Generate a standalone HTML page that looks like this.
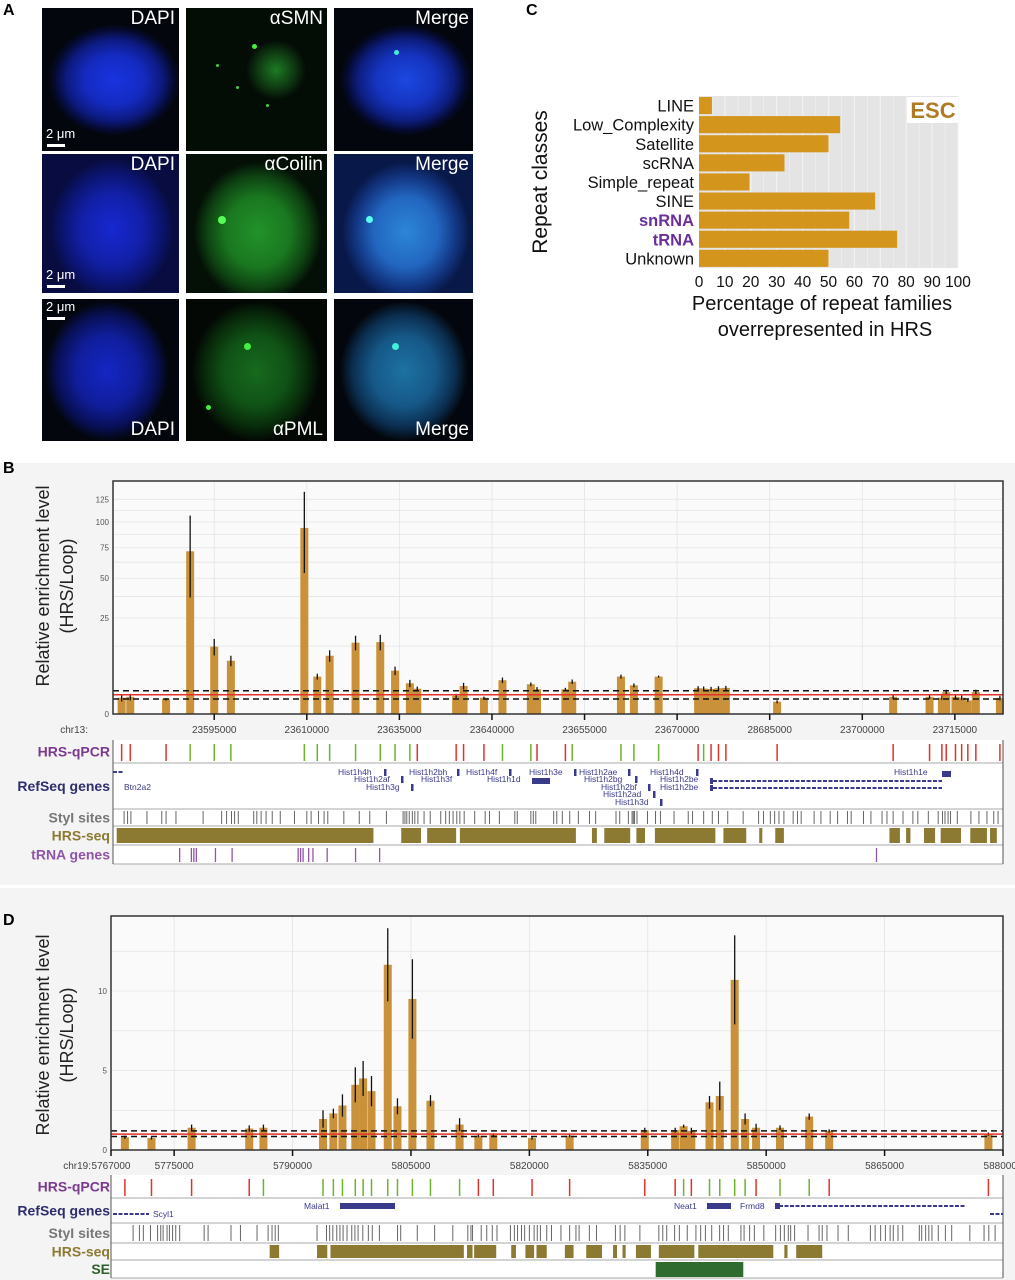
<!DOCTYPE html>
<html><head><meta charset="utf-8">
<style>
body{margin:0;background:#fff;}
#root{position:relative;width:1015px;height:1280px;overflow:hidden;font-family:"Liberation Sans",sans-serif;background:#fff;}
.img{position:absolute;background:#03060c;overflow:hidden;}
.lbl{position:absolute;color:#fff;font-size:19px;}
.sb{position:absolute;color:#fff;font-size:13px;}
.sbar{position:absolute;height:3px;width:18px;background:#fff;}
.pl{position:absolute;font-weight:bold;font-size:16px;color:#000;}
.dot{position:absolute;border-radius:50%;}
svg{position:absolute;left:0;top:0;}
</style></head><body>
<div id="root">
<div style="position:absolute;left:0;top:463px;width:1015px;height:422px;background:#f4f4f4"></div>
<div style="position:absolute;left:0;top:888px;width:1015px;height:392px;background:#f4f4f4"></div>

<div class="pl" style="left:3px;top:2px">A</div>
<div class="pl" style="left:526px;top:2px">C</div>
<div class="pl" style="left:3px;top:460px">B</div>
<div class="pl" style="left:3px;top:912px">D</div>

<!-- Panel A images -->
<div class="img" style="left:42px;top:8px;width:137px;height:143px;background:radial-gradient(ellipse 66px 56px at 72px 72px,#1834e0 0%,#142ac0 45%,#0d1a80 72%,#050a30 90%,#03060c 100%)"><div class="lbl" style="right:4px;top:0">DAPI</div><div class="sb" style="left:4px;top:118px">2 μm</div><div class="sbar" style="left:5px;top:136px"></div></div>
<div class="img" style="left:186px;top:8px;width:141px;height:143px;background:radial-gradient(circle 30px at 90px 62px,#1d7a24 0%,#0f3a12 60%,#040c06 100%),#040c06"><div class="lbl" style="right:4px;top:0">αSMN</div><div class="dot" style="left:66px;top:36px;width:5px;height:5px;background:#4e4"></div><div class="dot" style="left:30px;top:56px;width:3px;height:3px;background:#4c4"></div><div class="dot" style="left:50px;top:78px;width:3px;height:3px;background:#4c4"></div><div class="dot" style="left:80px;top:96px;width:3px;height:3px;background:#4c4"></div></div>
<div class="img" style="left:334px;top:8px;width:139px;height:143px;background:radial-gradient(ellipse 66px 56px at 72px 72px,#1b48e0 0%,#1534c0 45%,#0d1e80 72%,#050a30 90%,#03060c 100%)"><div class="lbl" style="right:4px;top:0">Merge</div><div class="dot" style="left:60px;top:42px;width:5px;height:5px;background:#4ed"></div></div>

<div class="img" style="left:42px;top:154px;width:137px;height:139px;background:radial-gradient(ellipse 62px 70px at 70px 75px,#1628d0 0%,#1220a8 50%,#0b1470 80%,#080c40 100%)"><div class="lbl" style="right:4px;top:0">DAPI</div><div class="sb" style="left:4px;top:113px">2 μm</div><div class="sbar" style="left:5px;top:131px"></div></div>
<div class="img" style="left:186px;top:154px;width:141px;height:139px;background:radial-gradient(ellipse 64px 70px at 72px 78px,#22922a 0%,#1a7820 50%,#0e4212 80%,#041006 100%)"><div class="lbl" style="right:4px;top:0">αCoilin</div><div class="dot" style="left:32px;top:62px;width:8px;height:8px;background:#5f5"></div></div>
<div class="img" style="left:334px;top:154px;width:139px;height:139px;background:radial-gradient(ellipse 64px 70px at 72px 78px,#2c86d8 0%,#2266c0 50%,#123480 80%,#081848 100%)"><div class="lbl" style="right:4px;top:0">Merge</div><div class="dot" style="left:32px;top:62px;width:7px;height:7px;background:#5fe"></div></div>

<div class="img" style="left:42px;top:299px;width:137px;height:142px;background:radial-gradient(ellipse 62px 70px at 65px 72px,#1426c4 0%,#101e9c 50%,#081058 80%,#03060c 100%)"><div class="lbl" style="right:4px;bottom:0">DAPI</div><div class="sb" style="left:4px;top:0">2 μm</div><div class="sbar" style="left:5px;top:18px"></div></div>
<div class="img" style="left:186px;top:299px;width:141px;height:142px;background:radial-gradient(ellipse 64px 70px at 70px 72px,#176a1e 0%,#105216 50%,#082a0a 80%,#030805 100%)"><div class="lbl" style="right:4px;bottom:0">αPML</div><div class="dot" style="left:58px;top:44px;width:7px;height:7px;background:#4e4"></div><div class="dot" style="left:20px;top:106px;width:5px;height:5px;background:#4e4"></div></div>
<div class="img" style="left:334px;top:299px;width:139px;height:142px;background:radial-gradient(ellipse 64px 70px at 70px 72px,#1c72a2 0%,#165888 50%,#0b2e50 80%,#03060c 100%)"><div class="lbl" style="right:4px;bottom:0">Merge</div><div class="dot" style="left:58px;top:44px;width:7px;height:7px;background:#4ed"></div></div>

<svg id="chart" width="1015" height="1280"></svg>
</div>
<script>
// ---------- Panel C data ----------
const cCategories=["LINE","Low_Complexity","Satellite","scRNA","Simple_repeat","SINE","snRNA","tRNA","Unknown"];
const cValues=[5,54.5,50,33,19.5,68,58,76.5,50];
const cTicks=[0,10,20,30,40,50,60,70,80,90,100];
// ---------- Panel B data (positions in kb, offset 23,000,000) ----------
const bPos=[580.0,581.4,587.2,591.1,595.0,597.7,609.6,611.7,613.7,617.9,621.9,624.3,626.7,627.9,634.2,635.4,638.7,641.7,646.3,647.3,651.9,653.0,660.9,663.0,667.0,673.4,674.3,675.5,676.7,677.9,686.2,705.0,710.9,712.9,713.6,715.1,716.1,717.1,718.4,722.3];
const bVal=[0.72,0.8,0.59,71.8,12.3,7.7,93.9,3.8,9.2,13.8,14,5.1,2.56,1.74,0.9,2.13,0.72,3.1,2.4,1.66,1.66,2.83,3.8,2.23,3.8,1.8,1.75,1.7,1.8,1.85,0.41,0.8,0.8,0.72,1.3,0.8,0.72,0.5,1.3,0.7];
const bErr=[0.3,0.3,0.1,35,3,1.5,40,0.6,1.8,2.8,3,1,0.6,0.3,0.2,0.5,0.1,0.5,0.3,0.3,0.2,0.4,0.4,0.3,0.2,0.3,0.3,0.3,0.3,0.3,0.1,0.2,0.2,0.2,0.3,0.2,0.2,0.1,0.3,0.2];
const bEnriched=[0,0,0,1,1,1,1,1,1,1,1,1,1,0,0,0,0,1,1,0,0,1,1,1,1,0,1,0,0,0,0,0,0,0,0,0,0,0,0,0];
const bTickPos=[595,610,625,640,655,670,685,700,715];
const bTickLabels=["23595000","23610000","23635000","23640000","23655000","23670000","28685000","23700000","23715000"];
const bYTicks=[0,25,50,75,100,125];
const bStyI=[580.4,580.96,581.5,584.1,586.5,587.2,588.8,593.2,596.2,597.0,597.8,598.3,598.9,601.4,601.9,602.6,603.4,604.4,605.7,608.0,610.0,610.7,611.9,612.8,613.4,616.0,618.5,620.2,622.9,625.6,625.9,626.2,626.6,627.1,627.5,628.0,629.0,630.0,631.7,632.5,633.1,633.7,634.3,634.8,635.5,637.2,638.9,639.6,641.2,643.7,644.1,646.3,646.7,647.1,650.0,650.5,651.4,652.6,654.0,655.8,656.8,660.1,660.7,662.1,662.7,662.9,663.1,663.5,665.2,666.5,667.3,669.5,671.8,672.5,674.3,675.7,676.7,678.2,680.7,683.2,684.0,685.1,685.8,686.5,687.3,688.8,689.5,690.1,692.2,693.3,694.8,696.0,697.6,698.2,700.2,701.4,703.2,704.0,705.0,706.6,708.2,709.0,710.7,712.3,713.0,713.4,713.9,714.3,715.4,717.6,718.9,720.2,721.3,722.0];
const bHrsStart=[579.2,625.3,629.5,634.8,656.2,658.2,663.4,666.4,677.5,683.3,685.9,704.4,707.1,710.0,712.7,717.5,720.7];
const bHrsEnd=[620.8,628.5,634.2,653.6,657.0,662.4,664.8,676.2,681.2,683.8,687.3,706.1,707.8,711.8,716.0,720.2,721.8];
const bTrna=[589.4,591.3,591.7,592.1,595.2,597.9,608.6,609.0,609.4,610.3,611.0,613.3,617.9,621.8,702.3];
// ---------- Panel D data (positions in kb, offset 5,700,000) ----------
const dPos=[68.76,72.13,77.21,84.51,86.31,93.86,95.17,96.32,97.95,98.94,100.0,102.06,103.29,105.18,107.47,111.16,113.54,115.43,120.34,125.1,134.62,138.47,139.54,140.52,142.82,144.12,146.01,147.33,148.72,151.75,155.45,157.98,178.15];
const dVal=[0.8,0.75,1.4,1.35,1.4,1.95,2.3,2.8,4.1,4.5,3.7,11.65,2.75,9.5,3.1,1.6,0.9,0.95,0.75,0.9,1.25,1.25,1.5,1.2,3.0,3.4,10.7,1.95,1.4,1.4,2.1,1.2,1.0];
const dErr=[0.1,0.1,0.2,0.2,0.2,0.55,0.3,0.7,1.1,1.1,0.95,2.3,0.5,2.5,0.35,0.4,0.1,0.1,0.1,0.1,0.15,0.15,0.1,0.2,0.4,0.9,2.8,0.35,0.25,0.15,0.2,0.1,0.1];
const dEnriched=[0,0,0,0,1,1,1,1,1,1,1,1,1,1,1,1,0,0,0,0,0,0,1,0,1,1,1,1,0,1,1,0,0];
const dTickPos=[67,75,90,105,120,135,150,165,180];
const dTickLabels=["5767000","5775000","5790000","5805000","5820000","5835000","5850000","5865000","5880000"];
const dYTicks=[0,5,10];
const dStyI=[69.8,70.6,71.1,72.0,72.9,73.3,73.6,74.1,74.4,74.8,75.2,75.7,78.8,79.3,82.2,83.4,85.5,86.9,87.4,87.8,88.2,93.1,94.3,94.7,95.1,95.6,96.0,96.4,96.9,97.5,97.9,98.3,98.9,99.6,100.1,101.0,103.3,103.7,105.8,108.0,110.3,112.2,112.6,112.8,113.9,114.6,115.3,115.9,117.6,118.1,118.5,119.0,119.4,120.0,120.6,121.0,121.4,122.2,122.8,124.0,125.1,125.9,126.3,127.6,128.5,130.9,131.5,132.1,134.0,136.4,136.9,137.4,138.4,139.0,140.0,141.1,141.7,142.3,143.1,144.1,144.6,145.2,146.8,147.2,147.9,148.5,149.7,151.2,151.8,152.3,152.8,153.1,153.6,155.3,156.7,157.1,157.7,159.1,160.4,163.2,163.8,164.5,165.1,165.7,166.1,166.7,167.3,169.4,169.7,170.2,170.6,171.0,171.8,172.7,173.5,175.8,177.6,178.2,179.0];
const dHrsStart=[87.1,93.1,94.8,112.1,113.0,117.7,119.5,120.9,124.5,127.2,130.6,131.8,133.5,136.4,141.4,152.3,153.8];
const dHrsEnd=[88.3,94.4,111.7,112.8,115.8,118.3,120.6,122.2,125.6,129.2,131.1,132.2,135.4,140.9,150.9,152.7,157.1];
const dSeStart=[136.0];
const dSeEnd=[147.1];

const svg=document.getElementById('chart');
const NS='http://www.w3.org/2000/svg';
function mk(tag,attrs,parent){const e=document.createElementNS(NS,tag);for(const k in attrs)e.setAttribute(k,attrs[k]);(parent||svg).appendChild(e);return e;}
function txt(s,attrs,parent){const e=mk('text',attrs,parent);e.textContent=s;return e;}
const BAR='#c9923a', RED='#e2332b', GREEN='#6cb32e', OLIVE='#8c7a33';

// ---------- Panel C ----------
(function(){
 const x0=699,x1=958,top=96,step=19.1;
 const xC=v=>x0+v/100*(x1-x0);
 const yC=i=>top+i*step;
 const g=mk('g',{});
 
 
 mk('rect',{x:x0,y:top,width:x1-x0,height:step*cCategories.length,fill:'#e4e4e4'},g);
 for(let v=5;v<=100;v+=5){mk('line',{x1:xC(v),x2:xC(v),y1:top,y2:top+step*cCategories.length,stroke:'#f2f2f2','stroke-width':v%10?0.6:1.2},g);}
 mk('rect',{x:907,y:97,width:51,height:26,fill:'#fff'},g);
 const esc=txt('ESC',{x:933,y:118,'text-anchor':'middle','font-size':'22','font-weight':'bold',fill:'#b07a25'},g);
 
 
 cCategories.forEach((c,i)=>{
  const r=mk('rect',{x:x0,y:yC(i)+1,width:xC(cValues[i])-x0,height:step-2,fill:'#d4951c'},g);
  
  
  const purple=(c==='snRNA'||c==='tRNA');
  const t=txt(c,{x:694,y:yC(i)+step/2+6,'text-anchor':'end','font-size':'16.5',fill:purple?'#6a2f9a':'#111','font-weight':purple?'bold':'normal'},g);
  
  
 });
 cTicks.forEach(v=>{
  const t=txt(String(v),{x:xC(v),y:287,'text-anchor':'middle','font-size':'15.5',fill:'#111'},g);
  
  
 });
 const t1=txt('Percentage of repeat families',{x:822,y:310,'text-anchor':'middle','font-size':'20',fill:'#111'},g);
 
 
 txt('overrepresented in HRS',{x:825,y:336,'text-anchor':'middle','font-size':'20',fill:'#111'},g);
 const yt=txt('Repeat classes',{x:0,y:0,'text-anchor':'middle','font-size':'21',fill:'#111',transform:'translate(547,182) rotate(-90)'},g);
 
 
})();

// ---------- generic genome panel ----------
function genomePanel(o){
 const g=mk('g',{});
 
 
 const L=o.left,R=o.right;
 const x=k=>L+(k-o.d0)/(o.d1-o.d0)*(R-L);
 mk('rect',{x:L,y:o.top,width:R-L,height:o.zero-o.top,fill:'#fafafa'},g);
 o.gridY.forEach(v=>mk('line',{x1:L,x2:R,y1:o.y(v),y2:o.y(v),stroke:'#e4e4e4','stroke-width':0.8},g));
 o.tickPos.forEach(k=>mk('line',{x1:x(k),x2:x(k),y1:o.top,y2:o.zero,stroke:'#e4e4e4','stroke-width':0.8},g));
 o.yTicks.forEach(v=>{const t=txt(String(v),{x:L-4,y:o.y(v)+3,'text-anchor':'end','font-size':'8',fill:'#555'},g);
  });
 o.pos.forEach((k,i)=>{
  const v=o.val[i];
  const b=mk('rect',{x:x(k)-4,y:o.y(v),width:8,height:o.zero-o.y(v),fill:BAR},g);
  
  
  const e=mk('line',{x1:x(k),x2:x(k),y1:o.y(v+o.err[i]),y2:o.y(Math.max(0,v-o.err[i])),stroke:'#111','stroke-width':1.3},g);
  
  
 });
 const th=o.y(1);
 const red=mk('line',{x1:L,x2:R,y1:th,y2:th,stroke:RED,'stroke-width':1.5},g);
 
 [o.y(o.dashHi),o.y(o.dashLo)].forEach(yy=>{const d=mk('line',{x1:L,x2:R,y1:yy,y2:yy,stroke:'#111','stroke-width':1.5,'stroke-dasharray':'6,4'},g);
  });
 mk('rect',{x:L,y:o.top,width:R-L,height:o.zero-o.top,fill:'none',stroke:'#333','stroke-width':1.5},g);
 o.tickPos.forEach((k,i)=>{
  mk('line',{x1:x(k),x2:x(k),y1:o.zero,y2:o.zero+6,stroke:'#111','stroke-width':1.5},g);
  const t=txt(o.tickLabels[i],{x:x(k),y:o.labelY,'text-anchor':'middle','font-size':'10',fill:'#444'},g);
  
 });
 txt(o.chr,{x:o.chrX,y:o.labelY,'text-anchor':'end','font-size':'10',fill:'#444'},g);
 const yt=txt('Relative enrichment level',{x:0,y:0,'text-anchor':'middle','font-size':'18',fill:'#222',transform:`translate(49,${o.titleY}) rotate(-90)`},g);
 
 txt('(HRS/Loop)',{x:0,y:0,'text-anchor':'middle','font-size':'18',fill:'#222',transform:`translate(73,${o.titleY}) rotate(-90)`},g);
 const tr=o.tracks;
 mk('rect',{x:L,y:tr[0][1],width:R-L,height:tr[tr.length-1][2]-tr[0][1],fill:'#fff'},g);
 tr.forEach(t=>{
  mk('line',{x1:L,x2:R,y1:t[2],y2:t[2],stroke:'#aaa','stroke-width':1},g);
  const lb=txt(t[0],{x:110,y:(t[1]+t[2])/2+5,'text-anchor':'end','font-size':'14','font-weight':'bold',fill:t[3]},g);
  
 });
 mk('line',{x1:L,x2:L,y1:tr[0][1],y2:tr[tr.length-1][2],stroke:'#555','stroke-width':1},g);
 mk('line',{x1:R,x2:R,y1:tr[0][1],y2:tr[tr.length-1][2],stroke:'#555','stroke-width':1},g);
 const q=tr[0];
 o.pos.forEach((k,i)=>{const l=mk('line',{x1:x(k),x2:x(k),y1:q[1]+4,y2:q[2]-2,stroke:o.enr[i]?GREEN:RED,'stroke-width':1.5},g);
  });
 const st=tr[o.styIdx];
 o.styI.forEach(k=>{const l=mk('line',{x1:x(k),x2:x(k),y1:st[1]+2,y2:st[2]-2,stroke:'#666','stroke-width':1},g);
  });
 const hs=tr[o.styIdx+1];
 o.hrsS.forEach((k,i)=>{const r=mk('rect',{x:x(k),y:hs[1]+2,width:x(o.hrsE[i])-x(k),height:hs[2]-hs[1]-4,fill:OLIVE},g);
  });
 if(o.extra) o.extra(x,g);
 return x;
}

genomePanel({name:'panel-b-chart',left:113,right:1003,top:481,zero:714,d0:578.6,d1:722.8,
 y:v=>714-19.2*Math.sqrt(v),gridY:[25,50,75,100,125,12.5,37.5,62.5,87.5,112.5],yTicks:bYTicks,
 pos:bPos,val:bVal,err:bErr,enr:bEnriched,tickPos:bTickPos,tickLabels:bTickLabels,dashHi:1.47,dashLo:0.61,
 labelY:733,chr:'chr13:',chrX:88,titleY:586,
 tracks:[['HRS-qPCR',740,763,'#7b3a8e'],['RefSeq genes',763,809,'#2e2e6e'],['StyI sites',809,826,'#777'],['HRS-seq',826,845,'#8c7a33'],['tRNA genes',845,864,'#8f55aa']],
 styIdx:2,styI:bStyI,hrsS:bHrsStart,hrsE:bHrsEnd,
 extra:(x,g)=>{
  bTrna.forEach(k=>{const l=mk('line',{x1:x(k),x2:x(k),y1:848,y2:862,stroke:'#8f55aa','stroke-width':1.3},g);
   });
 }
});

genomePanel({name:'panel-d-chart',left:111,right:1003,top:916,zero:1150,d0:67,d1:180,
 y:v=>1150-15.9*v,gridY:[2.5,5,7.5,10,12.5],yTicks:dYTicks,
 pos:dPos,val:dVal,err:dErr,enr:dEnriched,tickPos:dTickPos,tickLabels:dTickLabels,dashHi:1.2,dashLo:0.85,
 labelY:1169,chr:'chr19:',chrX:91,titleY:1035,
 tracks:[['HRS-qPCR',1175,1198,'#7b3a8e'],['RefSeq genes',1198,1223,'#2e2e6e'],['StyI sites',1223,1243,'#777'],['HRS-seq',1243,1260,'#8c7a33'],['SE',1260,1278,'#2e5e2a']],
 styIdx:2,styI:dStyI,hrsS:dHrsStart,hrsE:dHrsEnd,
 extra:(x,g)=>{
  dSeStart.forEach((k,i)=>{const r=mk('rect',{x:x(k),y:1262,width:x(dSeEnd[i])-x(k),height:15,fill:'#2f6b2f'},g);
   });
 }
});

const genes=mk('g',{'font-size':'8.5','fill':'#3a3a8c','font-family':'Liberation Sans Narrow, Liberation Sans, sans-serif'});


[['Hist1h4h',338,775],['Hist1h2af',354,782],['Hist1h3g',366,790],['Hist1h2bh',409,775],['Hist1h3f',421,782],['Hist1h4f',466,775],['Hist1h1d',487,782],['Hist1h3e',529,775],['Hist1h2ae',579,775],['Hist1h2bg',584,782],['Hist1h2bf',601,790],['Hist1h2ad',603,797],['Hist1h3d',615,805],['Hist1h4d',650,775],['Hist1h2be',660,782],['Hist1h2be',660,790],['Hist1h1e',894,775],['Btn2a2',124,790],
 ['Malat1',304,1209],['Neat1',674,1209],['Frmd8',740,1209],['Scyl1',153,1217]].forEach(a=>{txt(a[0],{x:a[1],y:a[2]},genes);});
[[385,769],[402,776],[412,784],[458,769],[510,769],[575,769],[629,769],[636,776],[649,784],[654,791],[661,799],[697,769]].forEach(a=>mk('rect',{x:a[0]-1,y:a[1],width:2.5,height:7,fill:'#3a3a8c'},genes));
[[532,778,18],[710,778,3],[710,785,3],[942,771,9],[340,1203,55],[707,1203,24],[775,1203,5]].forEach(a=>mk('rect',{x:a[0],y:a[1],width:a[2],height:6,fill:'#3a3a8c'},genes));
[[713,942,781],[713,942,788],[779,966,1206],[113,149,1214],[990,1003,1214],[113,123,772]].forEach(a=>mk('line',{x1:a[0],x2:a[1],y1:a[2],y2:a[2],stroke:'#3a3a8c','stroke-width':2,'stroke-dasharray':'4,1.5'},genes));
</script>
</body></html>
